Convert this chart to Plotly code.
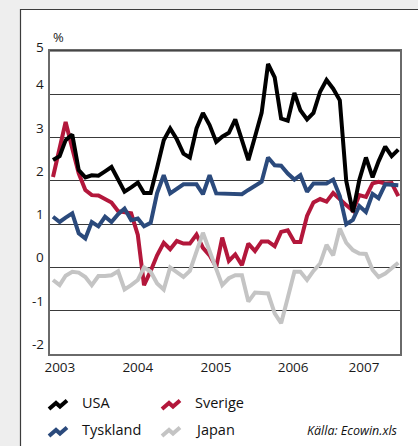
import pandas as pd
import plotly.graph_objects as go

# Monthly observations, Jan 2003 - Jun 2007 (percent)
months = pd.date_range("2003-01-01", periods=54, freq="MS")

usa = [2.48, 2.57, 2.94, 3.07, 2.25, 2.08, 2.13, 2.12, 2.22, 2.32,
       2.03, 1.75, 1.85, 1.96, 1.72, 1.72, 2.30, 2.94, 3.21, 2.96,
       2.63, 2.54, 3.21, 3.57, 3.29, 2.90, 3.02, 3.11, 3.42, 2.94,
       2.48, 3.02, 3.57, 4.70, 4.39, 3.44, 3.39, 4.03, 3.63, 3.42,
       3.57, 4.06, 4.33, 4.13, 3.86, 2.00, 1.28, 2.02, 2.54, 2.08,
       2.45, 2.79, 2.57, 2.72]

sverige = [2.09, 2.72, 3.36, 2.75, 2.17, 1.79, 1.67, 1.66, 1.57, 1.50,
           1.30, 1.28, 1.25, 0.75, -0.41, -0.08, 0.28, 0.57, 0.42, 0.61,
           0.55, 0.55, 0.76, 0.45, 0.28, 0.01, 0.69, 0.15, 0.30, 0.05,
           0.55, 0.38, 0.60, 0.60, 0.49, 0.82, 0.86, 0.59, 0.59, 1.19,
           1.50, 1.58, 1.52, 1.72, 1.57, 1.44, 1.31, 1.67, 1.63, 1.94,
           1.98, 1.94, 1.95, 1.65]

tyskland = [1.17, 1.05, 1.15, 1.25, 0.79, 0.67, 1.05, 0.95, 1.17, 1.05,
            1.23, 1.36, 1.09, 1.13, 0.95, 1.03, 1.72, 2.13, 1.71, 1.82,
            1.92, 1.92, 1.92, 1.69, 2.13, 1.71, 1.70, 1.69, 1.69, 1.69,
            1.79, 1.88, 1.98, 2.54, 2.36, 2.35, 2.17, 2.03, 2.13, 1.75,
            1.94, 1.94, 1.94, 2.03, 1.65, 1.00, 1.10, 1.42, 1.28, 1.70,
            1.60, 1.92, 1.90, 1.90]

japan = [-0.29, -0.41, -0.19, -0.10, -0.12, -0.22, -0.41, -0.20, -0.20, -0.18,
         -0.09, -0.51, -0.41, -0.29, 0.00, -0.10, -0.37, -0.51, 0.00, -0.11,
         -0.22, -0.08, 0.38, 0.80, 0.38, -0.05, -0.41, -0.25, -0.18, -0.18,
         -0.79, -0.58, -0.58, -0.60, -1.06, -1.29, -0.70, -0.10, -0.10, -0.29,
         -0.08, 0.09, 0.52, 0.28, 0.90, 0.57, 0.40, 0.32, 0.31, -0.06,
         -0.22, -0.14, -0.02, 0.11]

year_labels = ["2003", "2004", "2005", "2006", "2007"]
year_ticks = ["2003-02-02", "2004-02-01", "2005-01-31", "2006-01-26", "2006-12-23"]
y_values = [5, 4, 3, 2, 1, 0, -1, -2]

FONT = "Open Sans"
COLORS = {"USA": "#000000", "Sverige": "#b3173b",
          "Tyskland": "#2b4a7c", "Japan": "#c4c4c4"}

# figure geometry (pixels)
W, H = 418, 446
L, R, T, B = 50, 18, 51, 92
PW, PH = W - L - R, H - T - B


def px(x):
    return (x - L) / PW


def py(y):
    return (H - B - y) / PH


fig = go.Figure()

# drawing order: later series sit on top
for name, vals in [("Sverige", sverige), ("Japan", japan),
                   ("Tyskland", tyskland), ("USA", usa)]:
    fig.add_trace(go.Scatter(
        x=months, y=vals, name=name, mode="lines",
        line=dict(color=COLORS[name], width=4),
        showlegend=False, hoverinfo="skip"))

shapes = []
# white panel with its frame on the grey page
shapes.append(dict(type="rect", xref="paper", yref="paper", layer="below",
                   x0=px(20.5), x1=px(W + 20), y0=py(H + 20), y1=py(9.5),
                   fillcolor="white", line=dict(color="#3c3c3c", width=1.2)))
# top edge of plot frame
shapes.append(dict(type="line", xref="paper", yref="paper",
                   x0=0, x1=1, y0=1, y1=1, line=dict(color="#222", width=1.2)))

annotations = []
# y labels sit just above their gridlines
for v in y_values:
    annotations.append(dict(
        x=px(45.5), xref="paper", y=v, yref="y", text=str(v),
        showarrow=False, xanchor="right", yanchor="middle",
        yshift=4.5 if v == max(y_values) else 10,
        font=dict(family=FONT, size=13.5, color="#1a1a1a")))
annotations.append(dict(x=px(51), xref="paper", y=py(37), yref="paper",
                        text="%", showarrow=False, xanchor="left",
                        yanchor="middle",
                        font=dict(family=FONT, size=13, color="#1a1a1a")))

# legend: zig-zag swatch + label
legend_items = [("USA", 49, 402), ("Sverige", 162, 402),
                ("Tyskland", 49, 429), ("Japan", 162, 429)]
zig = [(0, 7), (7, 1), (11, 4.5), (18, -1.5)]
for name, x0, yc in legend_items:
    pts = [(px(x0 + dx), py(yc + dy)) for dx, dy in zig]
    path = "M " + " L ".join(f"{a:.5f},{b:.5f}" for a, b in pts)
    shapes.append(dict(type="path", xref="paper", yref="paper", path=path,
                       line=dict(color=COLORS[name], width=4)))
    annotations.append(dict(x=px(x0 + 31), xref="paper", y=py(yc), yref="paper",
                            text=name, showarrow=False, xanchor="left",
                            yanchor="middle",
                            font=dict(family=FONT, size=14.5, color="#111")))

annotations.append(dict(x=px(400), xref="paper", y=py(430), yref="paper",
                        text="<i>Källa: Ecowin.xls</i>", showarrow=False,
                        xanchor="right", yanchor="middle",
                        font=dict(family=FONT, size=12.5, color="#111")))

fig.update_layout(
    width=W, height=H,
    margin=dict(l=L, r=R, t=T, b=B, pad=0),
    paper_bgcolor="#eeeeee", plot_bgcolor="white",
    showlegend=False,
    shapes=shapes, annotations=annotations,
    font=dict(family=FONT, size=13.5, color="#1a1a1a"),
)
fig.update_xaxes(
    type="date", range=["2002-12-18", "2007-06-09"],
    tickvals=year_ticks, ticktext=year_labels,
    showgrid=False, zeroline=False, ticks="",
    showline=True, linecolor="#6a6a6a", linewidth=1.5, mirror=True,
    tickfont=dict(family=FONT, size=13.5, color="#1a1a1a"))
fig.update_yaxes(
    range=[-2, 5], dtick=1, tick0=0, showticklabels=False,
    showgrid=True, gridcolor="#3a3a3a", gridwidth=1,
    zeroline=False, ticks="",
    showline=True, linecolor="#6a6a6a", linewidth=1.5, mirror=True)

fig.write_html("out.html")
